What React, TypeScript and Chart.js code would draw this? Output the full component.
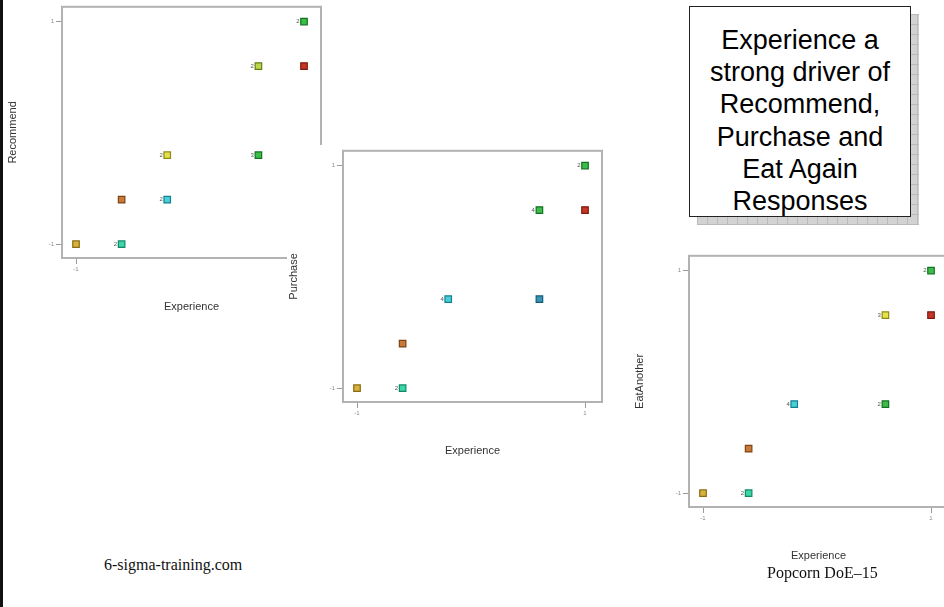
import React, { useEffect, useRef } from "react";
import { Chart, registerables } from "chart.js";

Chart.register(...registerables);

// ---------- data ----------
const axisTicks = [-1, 1];

const recommendExperience = [-1, -0.6, -0.6, -0.2, -0.2, 0.6, 0.6, 1, 1];
const recommendValues = [-1, -1, -0.6, -0.6, -0.2, -0.2, 0.6, 0.6, 1];
const recommendCounts = [1, 2, 1, 2, 2, 3, 2, 1, 2];
const recommendGroups = ["gold", "teal", "brown", "cyan", "yellow", "green", "lime", "red", "green"];

const purchaseExperience = [-1, -0.6, -0.6, -0.2, 0.6, 0.6, 1, 1];
const purchaseValues = [-1, -1, -0.6, -0.2, -0.2, 0.6, 0.6, 1];
const purchaseCounts = [1, 2, 1, 4, 1, 4, 1, 2];
const purchaseGroups = ["gold", "teal", "brown", "cyan", "blue", "green", "red", "green"];

const eatExperience = [-1, -0.6, -0.6, -0.2, 0.6, 0.6, 1, 1];
const eatValues = [-1, -1, -0.6, -0.2, -0.2, 0.6, 0.6, 1];
const eatCounts = [1, 2, 1, 4, 2, 3, 1, 2];
const eatGroups = ["gold", "teal", "brown", "cyan", "green", "yellow", "red", "green"];

// ---------- styles ----------
const palette: Record<string, { fill: string; line: string }> = {
  gold: { fill: "#d8b23a", line: "#8a6a12" },
  teal: { fill: "#3ad6a8", line: "#128868" },
  brown: { fill: "#c87a38", line: "#7e4414" },
  cyan: { fill: "#48cfd8", line: "#12808e" },
  yellow: { fill: "#e6e24a", line: "#8e8a14" },
  green: { fill: "#3cbc48", line: "#137222" },
  lime: { fill: "#bcd84a", line: "#627e14" },
  red: { fill: "#c63624", line: "#7e1a10" },
  blue: { fill: "#3a96b6", line: "#125a76" },
};

const countLabelPlugin = {
  id: "countLabels",
  afterDatasetsDraw(chart: any) {
    const ctx = chart.ctx;
    const counts: number[] = chart.config.options.plugins.countLabels.counts;
    const meta = chart.getDatasetMeta(0);
    ctx.save();
    ctx.font = "6px 'Liberation Sans', Arial, sans-serif";
    ctx.fillStyle = "#555";
    ctx.textAlign = "right";
    ctx.textBaseline = "middle";
    meta.data.forEach((el: any, i: number) => {
      if (counts[i] > 1) ctx.fillText(String(counts[i]), el.x - 4.5, el.y);
    });
    ctx.restore();
  },
};

const framePlugin = {
  id: "frameBox",
  beforeDraw(chart: any) {
    const ctx = chart.ctx;
    ctx.save();
    ctx.fillStyle = "#ffffff";
    ctx.fillRect(0, 0, chart.width, chart.height);
    ctx.restore();
  },
  beforeDatasetsDraw(chart: any) {
    const { left, top, right, bottom } = chart.chartArea;
    const ctx = chart.ctx;
    ctx.save();
    ctx.strokeStyle = "#b2b2b2";
    ctx.lineWidth = 2;
    ctx.strokeRect(left, top, right - left, bottom - top);
    ctx.restore();
  },
};

type PlotProps = {
  xs: number[];
  ys: number[];
  counts: number[];
  groups: string[];
  yTitle: string;
  left: number;
  top: number;
  z: number;
};

const CW = 329;
const CH = 328;

function ScatterPlot({ xs, ys, counts, groups, yTitle, left, top, z }: PlotProps) {
  const ref = useRef<HTMLCanvasElement | null>(null);
  useEffect(() => {
    if (!ref.current) return;
    const tickFont = { size: 6, family: "'Liberation Sans', Arial, sans-serif" };
    const titleFont = { size: 11, family: "'Liberation Sans', Arial, sans-serif" };
    const chart = new Chart(ref.current, {
      type: "scatter",
      data: {
        datasets: [
          {
            data: xs.map((x, i) => ({ x, y: ys[i] })),
            pointStyle: "rect",
            pointRadius: 4.6,
            pointHoverRadius: 4.6,
            borderWidth: 1.2,
            backgroundColor: groups.map((g) => palette[g].fill),
            borderColor: groups.map((g) => palette[g].line),
          },
        ],
      },
      options: {
        responsive: false,
        animation: false,
        events: [],
        layout: { padding: { top: 3, right: 14, bottom: 15, left: 0 } },
        plugins: {
          legend: { display: false },
          tooltip: { enabled: false },
          countLabels: { counts },
        } as any,
        scales: {
          x: {
            type: "linear",
            min: -1.123,
            max: 1.149,
            afterBuildTicks: (s: any) => {
              s.ticks = axisTicks.map((v) => ({ value: v }));
            },
            afterFit: (s: any) => {
              s.height = 56;
            },
            grid: { display: true, drawOnChartArea: false, drawTicks: true, tickLength: 6, color: "#9a9a9a", lineWidth: 1 },
            border: { display: false },
            ticks: { font: tickFont, color: "#8a8a8a", padding: 2, maxRotation: 0, autoSkip: false, callback: (v: any) => String(v) },
            title: { display: true, text: "Experience", font: titleFont, color: "#333333", padding: { top: 0, bottom: 0 } },
          },
          y: {
            type: "linear",
            min: -1.124,
            max: 1.133,
            afterBuildTicks: (s: any) => {
              s.ticks = axisTicks.map((v) => ({ value: v }));
            },
            afterFit: (s: any) => {
              s.width = 56;
            },
            grid: { display: true, drawOnChartArea: false, drawTicks: true, tickLength: 6, color: "#9a9a9a", lineWidth: 1 },
            border: { display: false },
            ticks: { font: tickFont, color: "#8a8a8a", padding: 2, autoSkip: false, callback: (v: any) => String(v) },
            title: { display: true, text: yTitle, font: titleFont, color: "#333333", padding: { top: 0, bottom: 0 } },
          },
        },
      },
      plugins: [framePlugin, countLabelPlugin],
    } as any);
    return () => chart.destroy();
  }, []);
  return (
    <canvas
      ref={ref}
      width={CW}
      height={CH}
      style={{ position: "absolute", left, top, width: CW, height: CH, display: "block", zIndex: z }}
    />
  );
}

export default function App() {
  return (
    <div
      style={{
        position: "fixed",
        left: 0,
        top: 0,
        width: 944,
        height: 607,
        overflow: "hidden",
        background: "#ffffff",
      }}
    >
      <ScatterPlot xs={recommendExperience} ys={recommendValues} counts={recommendCounts} groups={recommendGroups} yTitle="Recommend" left={6} top={1} z={1} />
      <ScatterPlot xs={purchaseExperience} ys={purchaseValues} counts={purchaseCounts} groups={purchaseGroups} yTitle="Purchase" left={287} top={145} z={2} />
      <ScatterPlot xs={eatExperience} ys={eatValues} counts={eatCounts} groups={eatGroups} yTitle="EatAnother" left={633} top={250} z={3} />

      {/* shadow of text box */}
      <div
        style={{
          position: "absolute",
          left: 697,
          top: 14,
          width: 222,
          height: 211,
          zIndex: 4,
          backgroundColor: "#d2d2d2",
          backgroundImage:
            "repeating-linear-gradient(0deg, #bababa 0px, #bababa 1px, transparent 1px, transparent 10px), repeating-linear-gradient(90deg, #bababa 0px, #bababa 1px, transparent 1px, transparent 10px)",
        }}
      />
      <div
        style={{
          position: "absolute",
          left: 689,
          top: 6,
          width: 220,
          zIndex: 5,
          background: "#ffffff",
          border: "1px solid #222",
          fontFamily: "'Liberation Sans', Arial, sans-serif",
          fontSize: 27,
          lineHeight: "32.2px",
          textAlign: "center",
          color: "#000",
          paddingTop: 17,
          boxSizing: "content-box",
          height: 192,
        }}
      >
        Experience a<br />strong driver of<br />Recommend,<br />Purchase and<br />Eat Again<br />Responses
      </div>

      <div
        style={{
          position: "absolute",
          left: 104,
          top: 556,
          zIndex: 6,
          fontFamily: "'Liberation Serif', 'Times New Roman', serif",
          fontSize: 16,
          lineHeight: "18px",
          color: "#111",
          whiteSpace: "nowrap",
        }}
      >
        6-sigma-training.com
      </div>
      <div
        style={{
          position: "absolute",
          left: 767,
          top: 564,
          zIndex: 6,
          fontFamily: "'Liberation Serif', 'Times New Roman', serif",
          fontSize: 16,
          lineHeight: "18px",
          color: "#111",
          whiteSpace: "nowrap",
        }}
      >
        Popcorn DoE–15
      </div>

      <div style={{ position: "absolute", left: 0, top: 0, width: 3, height: 607, background: "#111", zIndex: 7 }} />
    </div>
  );
}
